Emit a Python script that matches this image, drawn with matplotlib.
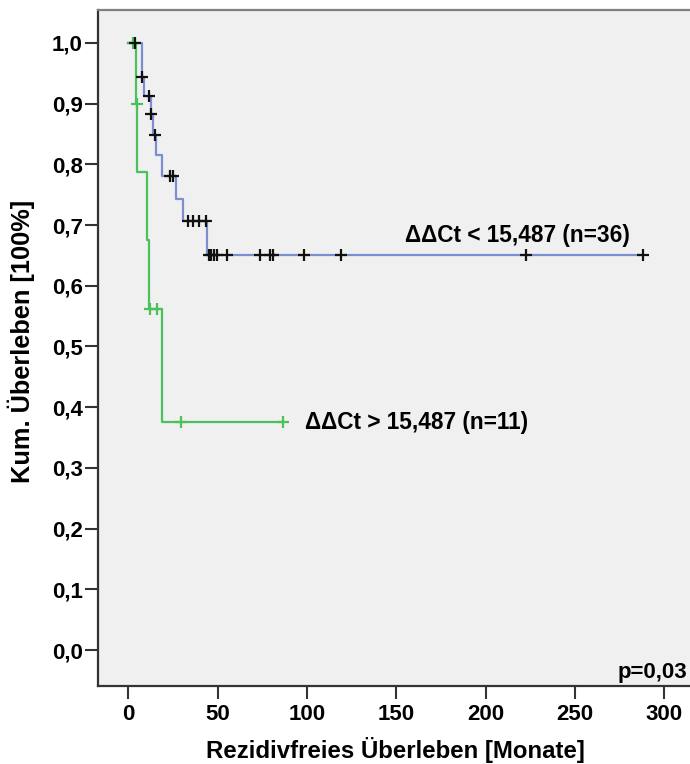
import numpy as np
import matplotlib
matplotlib.use("Agg")
import matplotlib.pyplot as plt

# ---- data ----
low_step_times = [0, 7.4, 8.7, 12.4, 13.9, 15.4, 18.6, 26.4, 30.7, 44.0]
low_step_surv = [1.0, 0.943, 0.913, 0.882, 0.849, 0.816, 0.781, 0.743, 0.706, 0.651]
low_censor_times = [3.5, 7.8, 11.5, 12.8, 14.8, 23.3, 24.8, 33.5, 36.1, 39.5, 43.3,
                    44.9, 46.3, 47.8, 49.6, 55.3, 73.6, 79.5, 81.0, 98.5, 119.0, 222.5, 288.0]
low_end = 288.0

high_step_times = [0, 4.3, 5.0, 10.7, 11.6, 18.6]
high_step_surv = [1.0, 0.9, 0.7875, 0.675, 0.5625, 0.375]
high_censor_times = [2.7, 4.6, 12.0, 15.8, 29.4, 86.7]
high_end = 86.7

label_low = "ΔΔCt < 15,487 (n=36)"
label_high = "ΔΔCt > 15,487 (n=11)"
p_text = "p=0,03"
x_ticks = [0, 50, 100, 150, 200, 250, 300]
y_ticks = [0.0, 0.1, 0.2, 0.3, 0.4, 0.5, 0.6, 0.7, 0.8, 0.9, 1.0]
x_label = "Rezidivfreies Überleben [Monate]"
y_label = "Kum. Überleben [100%]"

plt.rcParams['font.family'] = ['Liberation Sans', 'DejaVu Sans']
plt.rcParams['font.weight'] = 'bold'

fig = plt.figure(figsize=(6.90, 7.64), dpi=100)
ax = fig.add_axes([98/690, 1-686/764, 1-98/690, (686-10)/764])
ax.set_facecolor('#f0f0f0')

blue = '#7b8fd0'
green = '#4cc05a'


def surv_at(times, surv, t):
    idx = np.searchsorted(np.asarray(times), t, side='right') - 1
    return np.asarray(surv)[idx]


def draw(times, surv, end, ctimes, color, mcolor):
    xs = list(times) + [end]
    ys = list(surv) + [surv[-1]]
    ax.step(xs, ys, where='post', color=color, lw=1.6, zorder=2)
    cy = [surv_at(times, surv, t) for t in ctimes]
    ax.plot(ctimes, cy, linestyle='none', marker='+', markersize=8,
            markeredgewidth=1.6, color=mcolor, zorder=3)


draw(high_step_times, high_step_surv, high_end, high_censor_times, green, green)
draw(low_step_times, low_step_surv, low_end, low_censor_times, blue, '#111111')

ax.set_xlim(-17, 314.5)
ax.set_ylim(-0.059, 1.054)
ax.set_xticks(x_ticks)
ax.set_xticklabels([str(v) for v in x_ticks])
ax.set_yticks(y_ticks)
ax.set_yticklabels([f"{v:.1f}".replace('.', ',') for v in y_ticks])
ax.tick_params(axis='both', direction='out', length=9.5, width=1.5,
               color='#333333', labelsize=16)
ax.tick_params(axis='x', pad=3.5)
ax.tick_params(axis='y', pad=1.5)
for lab in ax.get_xticklabels() + ax.get_yticklabels():
    lab.set_fontweight('bold')

for s in ['left', 'bottom']:
    ax.spines[s].set_color('#333333')
    ax.spines[s].set_linewidth(1.6)
ax.spines['top'].set_color('#808080')
ax.spines['top'].set_linewidth(1.6)
ax.spines['right'].set_visible(False)

ax.set_xlabel(x_label, fontsize=17.3, fontweight='bold')
ax.xaxis.set_label_coords(0.5025, -0.0754)
ax.set_ylabel(y_label, fontsize=18.3, fontweight='bold')
ax.yaxis.set_label_coords(-0.1064, 0.5096)

ax.text(154.8, 0.6727, label_low, fontsize=16.3, fontweight='bold',
        ha='left', va='baseline')
ax.text(98.8, 0.3636, label_high, fontsize=16.3, fontweight='bold',
        ha='left', va='baseline')
ax.text(0.995, 0.0118, p_text, transform=ax.transAxes, fontsize=16,
        fontweight='bold', ha='right', va='baseline')

fig.savefig('out.png', dpi=100)
